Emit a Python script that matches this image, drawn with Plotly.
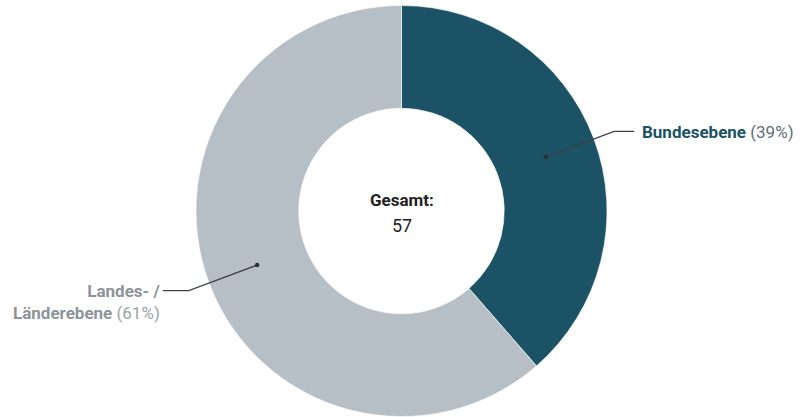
import math
import plotly.graph_objects as go

# Data
labels = ["Bundesebene", "Landes- / Länderebene"]
label_lines = [["Bundesebene"], ["Landes- /", "Länderebene"]]
values = [22, 35]
colors = ["#1b5265", "#b6bec6"]
name_colors = ["#1b5265", "#8d9499"]
pct_colors = ["#5e6e77", "#9ba2a8"]
total_label = "Gesamt:"

W, H = 802, 417
cx, cy, R = 401.5, 211.0, 205.5
HOLE = 0.5

total = sum(values)

fig = go.Figure(go.Pie(
    labels=labels,
    values=values,
    hole=HOLE,
    sort=False,
    direction="clockwise",
    rotation=0,
    marker=dict(colors=colors, line=dict(color="white", width=0.6)),
    textinfo="none",
    hoverinfo="label+value+percent",
    showlegend=False,
    domain=dict(x=[(cx - R) / W, (cx + R) / W],
                y=[1 - (cy + R) / H, 1 - (cy - R) / H]),
))


def px(x):
    return x / W


def py(y):
    return 1 - y / H


shapes = []
annotations = []
start = 0.0
r_mid = R * (1 + HOLE) / 2
r_elbow = R * 1.105
LINE_H = 20.5
for i, v in enumerate(values):
    frac = v / total
    mid = start + frac / 2
    start += frac
    # angle measured clockwise from 12 o'clock
    ang = 2 * math.pi * mid
    ux, uy = math.sin(ang), -math.cos(ang)
    x0, y0 = cx + ux * r_mid, cy + uy * r_mid
    x1, y1 = cx + ux * r_elbow, cy + uy * r_elbow
    side = 1 if ux >= 0 else -1
    x2 = x1 + side * (20 if side > 0 else 26)
    shapes.append(dict(type="path", xref="paper", yref="paper",
                       path=f"M {px(x0)} {py(y0)} L {px(x1)} {py(y1)} L {px(x2)} {py(y1)}",
                       line=dict(color="#3c4246", width=1.3)))
    shapes.append(dict(type="circle", xref="paper", yref="paper",
                       x0=px(x0 - 2.2), x1=px(x0 + 2.2), y0=py(y0 - 2.2), y1=py(y0 + 2.2),
                       fillcolor="#2b3236", line=dict(width=0)))
    pct = f"<span style='font-weight:normal;color:{pct_colors[i]}'>({round(frac * 100)}%)</span>"
    lines = label_lines[i]
    text = "<br>".join(f"<b>{ln}</b>" for ln in lines[:-1])
    if text:
        text += "<br>"
    text += f"<b>{lines[-1]}</b> {pct}"
    n = len(lines)
    annotations.append(dict(
        x=px(x2 + side * (6 if side > 0 else 0.5)), y=py(y1 + 1 + (n - 1) * LINE_H / 2),
        xref="paper", yref="paper",
        text=text, showarrow=False,
        xanchor="left" if side > 0 else "right",
        yanchor="middle",
        align="left" if side > 0 else "right",
        font=dict(family="Roboto", size=17, color=name_colors[i]),
    ))

annotations.append(dict(
    x=px(cx), y=py(cy - 11), xref="paper", yref="paper",
    text=f"<b>{total_label}</b>", showarrow=False,
    xanchor="center", yanchor="middle",
    font=dict(family="Roboto", size=17, color="#222222"),
))
annotations.append(dict(
    x=px(cx), y=py(cy + 14), xref="paper", yref="paper",
    text=f"{total}", showarrow=False,
    xanchor="center", yanchor="middle",
    font=dict(family="Roboto", size=18, color="#222222"),
))

fig.update_layout(
    width=W, height=H,
    margin=dict(l=0, r=0, t=0, b=0),
    paper_bgcolor="white",
    plot_bgcolor="white",
    shapes=shapes,
    annotations=annotations,
    font=dict(family="Roboto"),
)

fig.write_html("out.html")
